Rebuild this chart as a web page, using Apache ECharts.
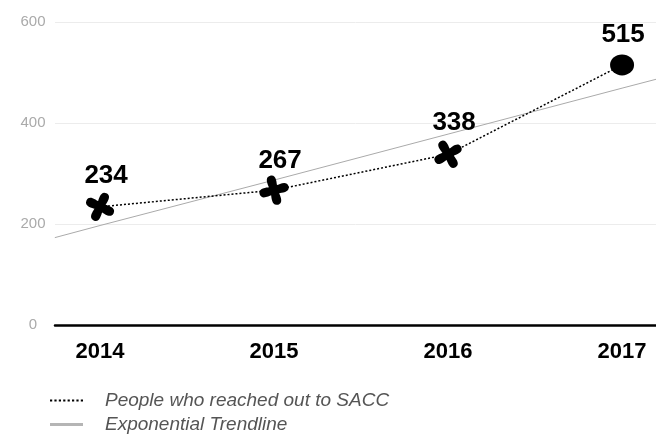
<!DOCTYPE html>
<html>
<head>
<meta charset="utf-8">
<script src="https://cdn.jsdelivr.net/npm/echarts@6/dist/echarts.min.js"></script>
<style>html,body{margin:0;padding:0;background:#fff}#c{width:656px;height:434px}</style>
</head>
<body>
<div id="c"></div>
<script>
const years = ['2014', '2015', '2016', '2017'];
const reached = [234, 267, 338, 515];
const trendYears = [2013.74, 2014, 2015, 2016, 2017, 2017.2];
const trendValues = [173, 197, 287, 378, 469, 487];
const yTicks = [0, 200, 400, 600];
const seriesNames = ['People who reached out to SACC', 'Exponential Trendline'];
const markerRotations = [-25, 15, 30, 0];

const starPath = 'path://M50 0 C72 0 64 30 64 36 C70 36 100 28 100 50 C100 72 70 64 64 64 C64 70 72 100 50 100 C28 100 36 70 36 64 C30 64 0 72 0 50 C0 28 30 36 36 36 C36 30 28 0 50 0 Z';
let dots = '';
for (let k = 0; k < 8; k++) { const x = k * 4.4; dots += 'M' + x + ' 0 h2.2 v2 h-2.2 Z '; }
const dotIcon = 'path://' + dots;

const chart = echarts.init(document.getElementById('c'));
const font = 'Liberation Sans, Arial, sans-serif';

const pointData = years.map((y, i) => {
  const last = i === years.length - 1;
  return {
    value: [Number(y), reached[i]],
    symbol: last ? 'circle' : starPath,
    symbolSize: last ? [24, 21] : 30,
    symbolRotate: markerRotations[i],
    label: { distance: last ? 7 : -2, offset: last ? [1, 0] : [6, 0] }
  };
});

const legendText = { color: '#555', fontStyle: 'italic', fontSize: 19, fontFamily: font, padding: [0, 0, 0, 17] };

chart.setOption({
  animation: false,
  grid: { left: 55, right: 0, top: 22, bottom: 109, containLabel: false },
  xAxis: {
    type: 'value',
    min: 2013.741,
    max: 2017.195,
    axisLine: { show: true, onZero: true, lineStyle: { color: '#000', width: 2.5 } },
    axisTick: { show: false },
    splitLine: { show: false },
    axisLabel: {
      customValues: years.map(Number),
      formatter: v => String(Math.round(v)),
      color: '#000',
      fontWeight: 'bold',
      fontSize: 22,
      fontFamily: font,
      margin: 16
    }
  },
  yAxis: {
    type: 'value',
    min: yTicks[0],
    max: yTicks[yTicks.length - 1],
    interval: 200,
    axisLine: { show: false },
    axisTick: { show: false },
    splitLine: { lineStyle: { color: '#ececec', width: 1 } },
    axisLabel: {
      color: '#aaa',
      fontSize: 15,
      fontFamily: font,
      align: 'center',
      margin: 22
    }
  },
  legend: [
    {
      left: 45,
      top: 386,
      itemWidth: 33,
      itemHeight: 2.5,
      textStyle: legendText,
      data: [{ name: seriesNames[0], icon: dotIcon, itemStyle: { color: '#000' } }]
    },
    {
      left: 45,
      top: 410,
      itemWidth: 33,
      itemHeight: 3,
      textStyle: legendText,
      data: [{ name: seriesNames[1], icon: 'rect', itemStyle: { color: '#b5b5b5' } }]
    }
  ],
  series: [
    {
      name: seriesNames[1],
      type: 'line',
      data: trendYears.map((x, i) => [x, trendValues[i]]),
      symbol: 'none',
      color: '#b5b5b5',
      lineStyle: { color: '#aaa', width: 1 },
      z: 1
    },
    {
      name: seriesNames[0],
      type: 'line',
      data: years.map((y, i) => [Number(y), reached[i]]),
      symbol: 'none',
      color: '#000',
      lineStyle: { color: '#000', width: 1.5, type: [2, 2] },
      z: 2
    },
    {
      name: 'markers',
      type: 'scatter',
      data: pointData,
      itemStyle: { color: '#000', opacity: 1 },
      label: {
        show: true,
        position: 'top',
        color: '#000',
        fontWeight: 'bold',
        fontSize: 26,
        fontFamily: font,
        formatter: p => String(p.value[1])
      },
      z: 3
    }
  ]
});
</script>
</body>
</html>
